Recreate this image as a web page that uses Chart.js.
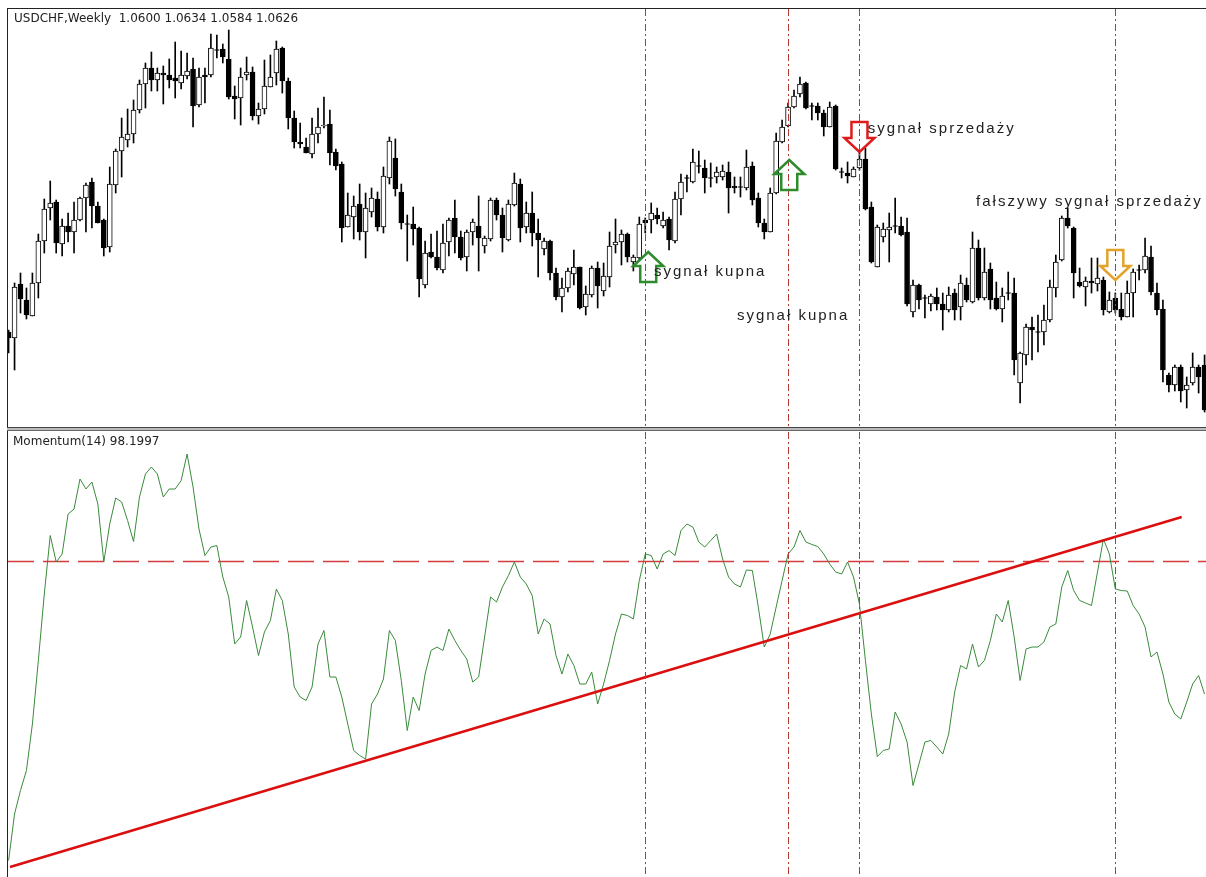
<!DOCTYPE html>
<html><head><meta charset="utf-8">
<script src="https://cdn.jsdelivr.net/npm/chart.js@4.4.0/dist/chart.umd.min.js"></script>
<style>
html,body{margin:0;padding:0;background:#fff;width:1206px;height:877px;overflow:hidden;}
canvas{position:absolute;display:block;}
#top{left:8px;top:9px;}
#bot{left:8px;top:432px;}
.ln{position:absolute;}
</style></head>
<body>
<div class="ln" style="left:7px;top:8px;width:1199px;height:1px;background:#222"></div>
<div class="ln" style="left:7px;top:8px;width:1px;height:869px;background:#222"></div>
<div class="ln" style="left:7px;top:427px;width:1199px;height:1px;background:#444"></div>
<div class="ln" style="left:7px;top:428px;width:1199px;height:2px;background:#bbb"></div>
<div class="ln" style="left:7px;top:430px;width:1199px;height:1px;background:#666"></div>
<canvas id="top" width="1198" height="418"></canvas>
<canvas id="bot" width="1198" height="445"></canvas>
<script>
// ---------- DATA ----------
const opens = [
1.128,1.122,1.176,1.160,1.144,1.177,1.219,1.252,1.258,1.216,
1.234,1.228,1.240,1.262,1.278,1.254,1.240,1.213,1.275,1.309,
1.320,1.326,1.350,1.376,1.392,1.380,1.387,1.385,1.382,1.377,
1.384,1.391,1.355,1.385,1.385,1.410,1.411,1.401,1.364,1.362,
1.385,1.388,1.344,1.351,1.373,1.387,1.412,1.379,1.342,1.318,
1.313,1.306,1.326,1.334,1.336,1.308,1.296,1.233,1.243,1.256,
1.228,1.248,1.261,1.233,1.282,1.302,1.268,1.236,1.236,1.232,
1.175,1.208,1.203,1.190,1.218,1.242,1.223,1.203,1.228,1.234,
1.214,1.221,1.260,1.245,1.220,1.255,1.276,1.233,1.247,1.227,
1.211,1.219,1.187,1.163,1.172,1.186,1.193,1.153,1.165,1.192,
1.169,1.183,1.215,1.218,1.226,1.198,1.202,1.240,1.240,1.245,
1.234,1.241,1.219,1.261,1.282,1.278,1.294,1.292,1.282,1.283,
1.283,1.288,1.274,1.273,1.272,1.294,1.262,1.237,1.228,1.267,
1.318,1.334,1.353,1.366,1.377,1.354,1.354,1.347,1.333,1.354,
1.288,1.287,1.283,1.292,1.301,1.253,1.193,1.223,1.230,1.234,
1.234,1.228,1.148,1.175,1.162,1.156,1.163,1.156,1.150,1.167,
1.153,1.175,1.158,1.212,1.162,1.191,1.162,1.151,1.167,1.167,
1.077,1.105,1.133,1.128,1.128,1.140,1.172,1.200,1.242,1.232,
1.178,1.173,1.179,1.176,1.180,1.148,1.162,1.151,1.143,1.167,
1.190,1.190,1.203,1.167,1.151,1.085,1.075,1.093,1.070,1.077,
1.093,1.095];
const highs = [
1.130,1.177,1.187,1.172,1.187,1.226,1.261,1.279,1.260,1.241,
1.247,1.258,1.263,1.277,1.282,1.258,1.241,1.293,1.311,1.342,
1.351,1.360,1.380,1.397,1.408,1.392,1.394,1.401,1.418,1.409,
1.407,1.402,1.392,1.392,1.426,1.425,1.416,1.430,1.374,1.392,
1.403,1.393,1.357,1.400,1.405,1.419,1.413,1.382,1.349,1.337,
1.322,1.342,1.352,1.363,1.350,1.311,1.298,1.267,1.264,1.276,
1.267,1.272,1.268,1.293,1.323,1.321,1.276,1.245,1.253,1.233,
1.219,1.226,1.229,1.236,1.242,1.260,1.229,1.230,1.241,1.264,
1.224,1.262,1.262,1.252,1.260,1.287,1.281,1.258,1.268,1.241,
1.222,1.220,1.192,1.182,1.192,1.210,1.193,1.174,1.194,1.198,
1.197,1.228,1.241,1.230,1.227,1.205,1.243,1.242,1.257,1.252,
1.248,1.243,1.268,1.286,1.285,1.311,1.309,1.300,1.297,1.293,
1.295,1.298,1.283,1.283,1.310,1.298,1.267,1.241,1.272,1.327,
1.340,1.357,1.370,1.383,1.378,1.357,1.357,1.350,1.358,1.355,
1.292,1.298,1.293,1.310,1.312,1.258,1.235,1.237,1.247,1.262,
1.243,1.242,1.180,1.176,1.165,1.166,1.172,1.167,1.173,1.171,
1.185,1.182,1.228,1.220,1.212,1.197,1.178,1.172,1.188,1.182,
1.108,1.136,1.143,1.145,1.155,1.180,1.205,1.244,1.252,1.233,
1.192,1.183,1.202,1.202,1.183,1.168,1.167,1.167,1.179,1.191,
1.195,1.222,1.214,1.177,1.160,1.087,1.095,1.095,1.083,1.107,
1.095,1.105];
const lows = [
1.107,1.090,1.147,1.141,1.144,1.162,1.207,1.240,1.207,1.204,
1.218,1.207,1.239,1.228,1.232,1.237,1.204,1.208,1.267,1.283,
1.313,1.317,1.347,1.352,1.369,1.369,1.356,1.372,1.362,1.371,
1.381,1.333,1.353,1.357,1.383,1.402,1.397,1.361,1.341,1.335,
1.380,1.340,1.336,1.346,1.373,1.375,1.367,1.331,1.312,1.312,
1.307,1.302,1.317,1.332,1.295,1.290,1.218,1.233,1.221,1.220,
1.202,1.243,1.229,1.227,1.276,1.264,1.231,1.199,1.215,1.163,
1.172,1.202,1.190,1.187,1.204,1.207,1.200,1.189,1.215,1.189,
1.207,1.219,1.240,1.208,1.219,1.254,1.218,1.227,1.214,1.183,
1.205,1.180,1.160,1.148,1.168,1.175,1.151,1.145,1.163,1.152,
1.164,1.173,1.207,1.195,1.198,1.189,1.200,1.227,1.227,1.236,
1.232,1.210,1.217,1.245,1.268,1.277,1.287,1.267,1.273,1.277,
1.280,1.247,1.267,1.263,1.270,1.255,1.233,1.221,1.228,1.266,
1.317,1.333,1.352,1.363,1.351,1.340,1.340,1.324,1.333,1.290,
1.282,1.277,1.283,1.290,1.250,1.197,1.193,1.218,1.198,1.227,
1.224,1.154,1.143,1.151,1.142,1.149,1.150,1.130,1.148,1.140,
1.140,1.158,1.157,1.160,1.160,1.151,1.150,1.138,1.160,1.085,
1.057,1.095,1.100,1.108,1.115,1.138,1.163,1.199,1.232,1.162,
1.173,1.154,1.167,1.169,1.145,1.147,1.147,1.140,1.143,1.143,
1.180,1.187,1.165,1.145,1.078,1.068,1.069,1.058,1.052,1.075,
1.067,1.048];
const closes = [
1.122,1.173,1.161,1.145,1.177,1.219,1.251,1.257,1.217,1.234,
1.228,1.240,1.262,1.275,1.254,1.237,1.212,1.276,1.309,1.323,
1.326,1.350,1.376,1.392,1.380,1.387,1.385,1.380,1.379,1.385,
1.389,1.354,1.383,1.383,1.412,1.410,1.403,1.363,1.361,1.383,
1.388,1.344,1.351,1.374,1.383,1.411,1.379,1.342,1.318,1.316,
1.307,1.326,1.333,1.335,1.307,1.294,1.232,1.245,1.254,1.228,
1.252,1.262,1.233,1.284,1.319,1.271,1.237,1.236,1.231,1.181,
1.207,1.203,1.192,1.217,1.240,1.223,1.202,1.228,1.238,1.222,
1.222,1.260,1.245,1.222,1.256,1.277,1.232,1.247,1.227,1.220,
1.219,1.187,1.163,1.172,1.189,1.193,1.152,1.166,1.192,1.174,
1.184,1.214,1.218,1.226,1.203,1.203,1.236,1.237,1.247,1.241,
1.240,1.220,1.261,1.278,1.282,1.298,1.294,1.282,1.282,1.288,
1.289,1.272,1.272,1.273,1.293,1.260,1.237,1.228,1.267,1.319,
1.333,1.353,1.364,1.376,1.352,1.354,1.347,1.333,1.353,1.291,
1.288,1.284,1.291,1.301,1.251,1.198,1.233,1.231,1.233,1.234,
1.225,1.156,1.175,1.160,1.162,1.164,1.156,1.150,1.165,1.150,
1.177,1.160,1.212,1.162,1.188,1.160,1.151,1.164,1.167,1.100,
1.107,1.133,1.130,1.128,1.140,1.173,1.198,1.242,1.234,1.187,
1.174,1.179,1.177,1.182,1.150,1.160,1.150,1.143,1.167,1.188,
1.190,1.204,1.168,1.150,1.090,1.075,1.093,1.069,1.075,1.093,
1.083,1.050];
const momentum = [
94.02,94.95,95.42,95.82,96.75,98.02,99.35,100.52,99.99,100.15,
100.95,101.05,101.65,101.45,101.59,101.15,99.99,100.75,101.27,101.19,
100.82,100.40,101.29,101.75,101.89,101.75,101.29,101.45,101.45,101.62,
102.15,101.49,100.65,100.12,100.29,100.32,99.69,99.29,98.35,98.49,
99.22,98.69,98.12,98.59,98.82,99.45,99.22,98.55,97.49,97.29,
97.22,97.49,98.35,98.62,97.69,97.69,97.29,96.75,96.22,96.12,
96.05,97.15,97.35,97.65,98.62,98.42,97.62,96.62,97.29,97.02,
97.75,98.22,98.29,98.22,98.65,98.42,98.22,98.05,97.59,97.69,
98.49,99.29,99.19,99.49,99.72,99.99,99.69,99.55,99.32,98.55,
98.85,98.75,98.12,97.75,98.15,97.92,97.55,97.55,97.79,97.15,
97.55,98.02,98.55,98.95,98.92,98.85,99.62,100.15,100.12,99.85,
100.15,100.22,100.12,100.62,100.75,100.69,100.39,100.29,100.42,100.55,
100.05,99.69,99.55,99.49,99.83,99.82,99.09,98.29,98.55,99.09,
99.62,100.15,100.29,100.62,100.39,100.34,100.30,100.15,99.95,99.79,
99.75,99.99,99.69,99.15,98.02,96.95,96.10,96.22,96.25,96.99,
96.75,96.39,95.52,95.95,96.39,96.42,96.29,96.15,96.55,97.39,
97.92,97.85,98.35,97.89,98.02,98.42,98.95,98.79,99.22,98.49,
97.62,98.25,98.29,98.29,98.39,98.69,98.75,99.49,99.82,99.42,
99.22,99.17,99.12,99.79,100.45,100.15,99.45,99.42,99.41,99.12,
98.95,98.69,98.09,98.19,97.75,97.19,96.95,96.85,97.19,97.55,
97.72,97.35];
const momentumLevel = 100;
const trendIdx = [0.24, 197.16];
const trendVal = [93.89, 100.89];
const signalIdx = [107, 131, 143, 186];
const arrowIdx = [107.5, 131.2, 143, 186];
const arrowTip = [1.208, 1.300, 1.308, 1.180];
const arrowDir = ['up', 'up', 'down', 'down'];
const arrowColor = ['#2e8b2e', '#2e8b2e', '#e01b1b', '#e3a32a'];
const noteText = ['sygnał kupna', 'sygnał kupna', 'sygnał sprzedaży', 'fałszywy sygnał sprzedaży'];
const noteIdx = [108.47, 122.4, 144.4, 162.6];
const notePrice = [1.188, 1.144, 1.331, 1.258];
const titleText = 'USDCHF,Weekly  1.0600 1.0634 1.0584 1.0626';
const indicatorText = 'Momentum(14) 98.1997';

// ---------- VIEW ----------
const XMIN = -0.1, XMAX = 201.24;
const idx = closes.map((_, i) => i);
const wickData = idx.map(i => ({x: i, y: [lows[i], highs[i]]}));
const bodyData = idx.map(i => ({x: i, y: [opens[i], closes[i]]}));
const bodyColors = idx.map(i => closes[i] >= opens[i] ? '#ffffff' : '#000000');
const dojiData = idx.filter(i => opens[i] === closes[i]).map(i => ({x: i, y: opens[i]}));
const VCOL = '#b23a30';

function drawVLines(chart) {
  const {ctx, chartArea: a, scales: {x}} = chart;
  ctx.save();
  ctx.strokeStyle = VCOL; ctx.lineWidth = 1; ctx.setLineDash([7, 3, 2, 3]);
  signalIdx.forEach(i => {
    const px = Math.round(x.getPixelForValue(i)) + 0.5;
    ctx.beginPath(); ctx.moveTo(px, a.top); ctx.lineTo(px, a.bottom); ctx.stroke();
  });
  ctx.restore();
}
function arrowPath(ctx, cx, tip, dir) {
  const s = dir === 'up' ? 1 : -1, W = 30, H = 30, SW = 16, HH = 14;
  ctx.beginPath();
  ctx.moveTo(cx, tip);
  ctx.lineTo(cx + W / 2, tip + s * HH);
  ctx.lineTo(cx + SW / 2, tip + s * HH);
  ctx.lineTo(cx + SW / 2, tip + s * H);
  ctx.lineTo(cx - SW / 2, tip + s * H);
  ctx.lineTo(cx - SW / 2, tip + s * HH);
  ctx.lineTo(cx - W / 2, tip + s * HH);
  ctx.closePath();
}
const overlayTop = {
  id: 'overlayTop',
  afterDatasetsDraw(chart) {
    drawVLines(chart);
    const {ctx, scales: {x, y}} = chart;
    ctx.save();
    ctx.lineWidth = 2.5; ctx.lineJoin = 'miter';
    arrowIdx.forEach((v, k) => {
      arrowPath(ctx, x.getPixelForValue(v), y.getPixelForValue(arrowTip[k]), arrowDir[k]);
      ctx.strokeStyle = arrowColor[k]; ctx.stroke();
    });
    ctx.fillStyle = '#222';
    ctx.textBaseline = 'middle';
    ctx.font = '15px "Liberation Sans", Arial, sans-serif';
    ctx.letterSpacing = '2px';
    noteText.forEach((t, k) => ctx.fillText(t, x.getPixelForValue(noteIdx[k]), y.getPixelForValue(notePrice[k])));
    ctx.letterSpacing = '0px';
    ctx.font = '12px "DejaVu Sans", sans-serif';
    ctx.fillText(titleText, 6, 10);
    ctx.restore();
  }
};
const overlayBot = {
  id: 'overlayBot',
  afterDatasetsDraw(chart) {
    drawVLines(chart);
    const {ctx} = chart;
    ctx.save();
    ctx.fillStyle = '#222'; ctx.textBaseline = 'middle';
    ctx.font = '12px "DejaVu Sans", sans-serif';
    ctx.fillText(indicatorText, 5, 10);
    ctx.restore();
  }
};
const common = {
  responsive: false, animation: false, events: [],
  layout: {padding: 0, autoPadding: false},
  plugins: {legend: {display: false}, tooltip: {enabled: false}, title: {display: false}}
};
new Chart(document.getElementById('top'), {
  type: 'bar',
  data: {datasets: [
    {type: 'bar', data: wickData, backgroundColor: '#000', borderWidth: 0, barThickness: 1, grouped: false, order: 3},
    {type: 'bar', data: bodyData, backgroundColor: bodyColors, borderColor: '#000', borderWidth: 1, borderSkipped: false, barThickness: 5, grouped: false, order: 2},
    {type: 'scatter', data: dojiData, pointStyle: 'line', pointRadius: 2.5, borderColor: '#000', borderWidth: 1, order: 1}
  ]},
  options: Object.assign({}, common, {
    scales: {
      x: {type: 'linear', min: XMIN, max: XMAX, offset: false, display: false},
      y: {type: 'linear', min: 1.033, max: 1.451, display: false}
    }
  }),
  plugins: [overlayTop]
});
new Chart(document.getElementById('bot'), {
  type: 'line',
  data: {datasets: [
    {data: [{x: XMIN, y: momentumLevel}, {x: XMAX, y: momentumLevel}], borderColor: '#d23c3c', borderWidth: 1.3, borderDash: [26, 9], pointRadius: 0, order: 3},
    {data: idx.map(i => ({x: i, y: momentum[i]})), borderColor: '#3b8a3b', borderWidth: 1, pointRadius: 0, tension: 0, order: 2},
    {data: trendIdx.map((v, k) => ({x: v, y: trendVal[k]})), borderColor: '#dc0f0f', borderWidth: 2.5, pointRadius: 0, order: 1}
  ]},
  options: Object.assign({}, common, {
    scales: {
      x: {type: 'linear', min: XMIN, max: XMAX, offset: false, display: false},
      y: {type: 'linear', min: 93.69, max: 102.59, display: false}
    }
  }),
  plugins: [overlayBot]
});
</script>
</body></html>
